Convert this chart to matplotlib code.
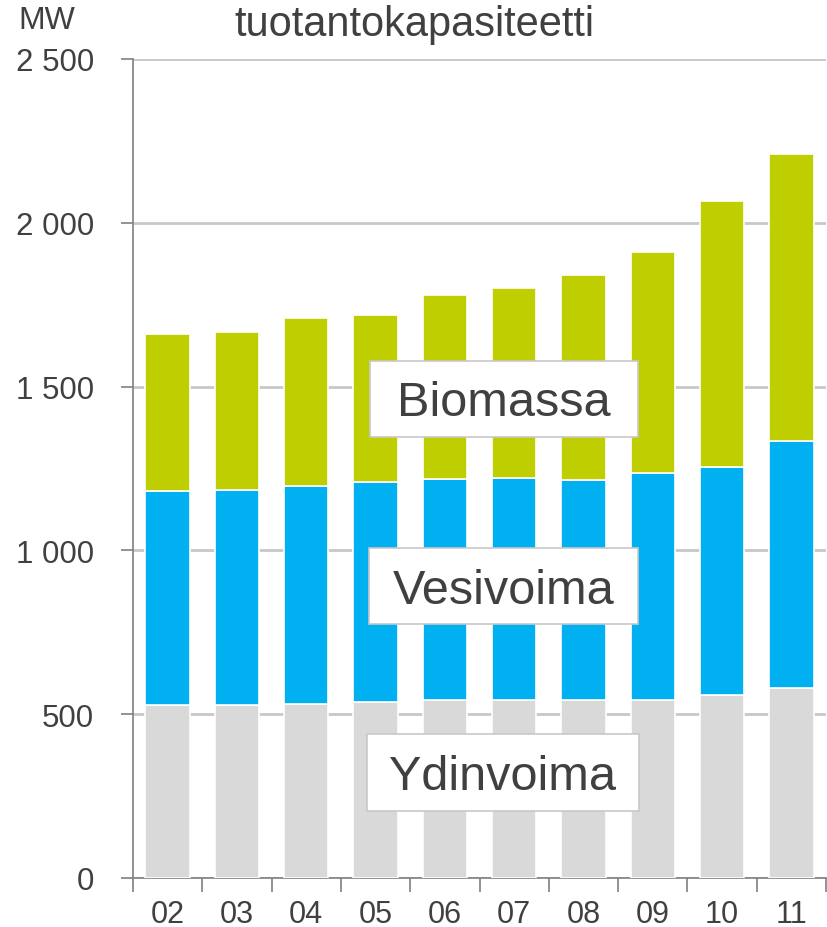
import matplotlib
matplotlib.use("Agg")
import matplotlib.pyplot as plt
from matplotlib.patches import Rectangle
import numpy as np

years = ["02", "03", "04", "05", "06", "07", "08", "09", "10", "11"]
ydinvoima = [529, 529, 530, 536, 542, 542, 542, 542, 560, 580]
vesivoima_top = [1182, 1185, 1197, 1209, 1217, 1220, 1216, 1236, 1255, 1333]
total = [1661, 1666, 1708, 1720, 1780, 1801, 1841, 1912, 2067, 2211]
vesivoima = [v - y for v, y in zip(vesivoima_top, ydinvoima)]
biomassa = [t - v for t, v in zip(total, vesivoima_top)]
series_names = ["Ydinvoima", "Vesivoima", "Biomassa"]
colors = ["#D9D9D9", "#00B0F0", "#BFCE00"]
yticks = [0, 500, 1000, 1500, 2000, 2500]
ytick_labels = ["0", "500", "1 000", "1 500", "2 000", "2 500"]
title = "tuotantokapasiteetti"
unit = "MW"

plt.rcParams['font.family'] = ['Liberation Sans', 'DejaVu Sans']
txt = "#404040"

W, H = 827, 928
fig = plt.figure(figsize=(W / 100, H / 100), dpi=100)
ax = fig.add_axes([133 / W, 1 - 879 / H, (826 - 133) / W, (879 - 60) / H])

x = np.arange(len(years))
bw = 0.64
bottom = np.zeros(len(years))
for vals, c in zip([ydinvoima, vesivoima, biomassa], colors):
    ax.bar(x, vals, bw, bottom=bottom, color=c, edgecolor="white", linewidth=1.2, zorder=3)
    bottom += np.array(vals)

ax.set_xlim(-0.5, len(years) - 0.5)
ax.set_ylim(0, 2500)
ax.set_yticks(yticks)
ax.set_yticklabels(ytick_labels)
ax.yaxis.grid(True, color="#C8C8C8", linewidth=2, zorder=0)
ax.set_axisbelow(True)

ax.set_xticks(x)
ax.set_xticklabels(years)
ax.set_xticks(np.arange(-0.5, len(years)), minor=True)
ax.tick_params(axis="x", which="major", length=0, pad=15, labelsize=22, labelcolor=txt)
ax.tick_params(axis="x", which="minor", length=10, width=1.2, color="#808080", direction="out")
ax.tick_params(axis="y", length=9, width=1.2, color="#808080", pad=19, labelsize=22.5, labelcolor=txt)

for s in ["top", "right"]:
    ax.spines[s].set_visible(False)
for s in ["left", "bottom"]:
    ax.spines[s].set_color("#808080")
    ax.spines[s].set_linewidth(1.2)

fig.text(414 / W, 1 - 25 / H, title, ha="center", va="center", fontsize=30, color=txt)
fig.text(18 / W, 1 - 21 / H, unit, ha="left", va="center", fontsize=23, color=txt)

boxes = [(370, 362, 638, 438), (369, 549, 638, 625), (367, 735, 639, 812)]
for name, (x0, y0, x1, y1) in zip(["Biomassa", "Vesivoima", "Ydinvoima"], boxes):
    r = Rectangle((x0 / W, 1 - y1 / H), (x1 - x0) / W, (y1 - y0) / H,
                  transform=fig.transFigure, facecolor="white", edgecolor="#C8C8C8",
                  linewidth=1.2, zorder=10)
    fig.patches.append(r)
    fig.text((x0 + x1) / 2 / W, 1 - ((y0 + y1) / 2 + 4) / H, name, ha="center", va="center",
             fontsize=35, color=txt, zorder=11)

fig.savefig("out.png", dpi=100)
